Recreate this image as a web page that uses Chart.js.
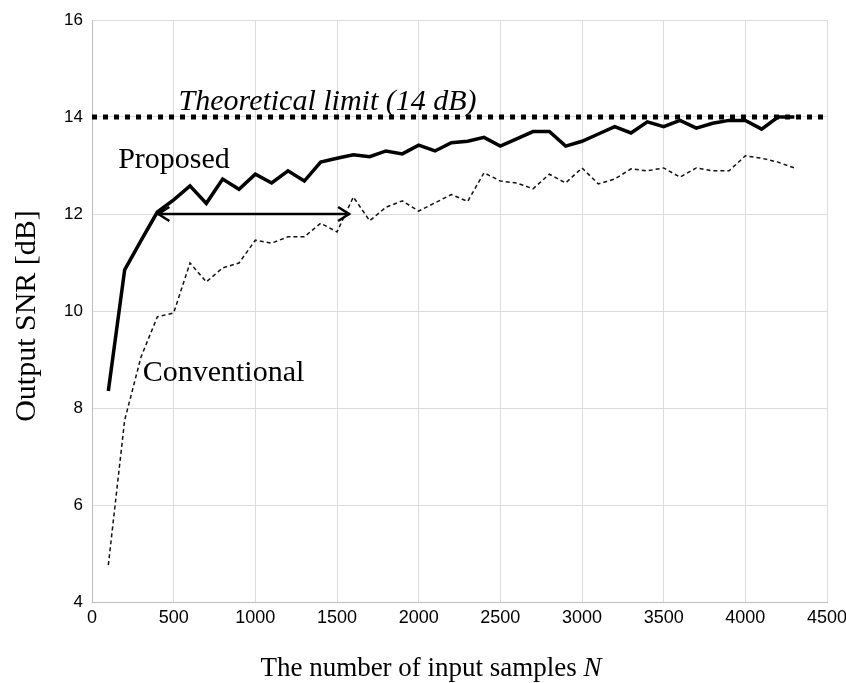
<!DOCTYPE html>
<html>
<head>
<meta charset="utf-8">
<script src="https://cdn.jsdelivr.net/npm/chart.js@4"></script>
<style>
html,body{margin:0;padding:0;background:#fff;}
#wrap{position:relative;width:846px;height:683px;}
</style>
</head>
<body>
<div id="wrap"><canvas id="c"></canvas></div>
<script>
const samplesN = [100,200,300,400,500,600,700,800,900,1000,1100,1200,1300,1400,1500,1600,1700,1800,1900,2000,2100,2200,2300,2400,2500,2600,2700,2800,2900,3000,3100,3200,3300,3400,3500,3600,3700,3800,3900,4000,4100,4200,4300];
const proposedSNR = [8.35,10.85,11.45,12.04,12.29,12.58,12.22,12.72,12.51,12.82,12.64,12.89,12.68,13.07,13.15,13.22,13.18,13.30,13.24,13.42,13.30,13.47,13.50,13.58,13.40,13.55,13.70,13.70,13.40,13.50,13.65,13.80,13.67,13.90,13.80,13.93,13.77,13.87,13.93,13.93,13.75,14.0,14.0];
const conventionalSNR = [4.76,7.75,9.05,9.88,9.96,10.99,10.60,10.89,10.99,11.46,11.40,11.53,11.53,11.81,11.63,12.35,11.86,12.14,12.27,12.06,12.23,12.40,12.26,12.85,12.68,12.64,12.52,12.82,12.64,12.95,12.62,12.72,12.93,12.89,12.95,12.76,12.95,12.89,12.89,13.20,13.15,13.07,12.95];
const limitX = [0,4500];
const limitSNR = [14,14];
const xTicks = [0,500,1000,1500,2000,2500,3000,3500,4000,4500];
const yTicks = [4,6,8,10,12,14,16];
const arrowFrom = [400,12];
const arrowTo = [1580,12];

const toXY = (xs, ys) => xs.map((x,i)=>({x:x,y:ys[i]}));
const SERIF = '"Liberation Serif", "Times New Roman", serif';

const annot = {
  id:'annot',
  afterDatasetsDraw(chart){
    const {ctx, scales:{x,y}, chartArea} = chart;
    ctx.save();
    ctx.fillStyle='#000';
    ctx.font='italic 30px ' + SERIF;
    ctx.textAlign='left'; ctx.textBaseline='alphabetic';
    ctx.fillText('Theoretical limit (14 dB)', x.getPixelForValue(530), y.getPixelForValue(14.14));
    ctx.font='30px ' + SERIF;
    ctx.fillText('Proposed', x.getPixelForValue(160), y.getPixelForValue(12.95));
    ctx.fillText('Conventional', x.getPixelForValue(310), y.getPixelForValue(8.55));
    // arrow
    const x1=x.getPixelForValue(arrowFrom[0]), y1=y.getPixelForValue(arrowFrom[1]);
    const x2=x.getPixelForValue(arrowTo[0]), y2=y.getPixelForValue(arrowTo[1]);
    ctx.strokeStyle='#000'; ctx.lineWidth=2.5;
    ctx.beginPath(); ctx.moveTo(x1,y1); ctx.lineTo(x2,y2); ctx.stroke();
    ctx.beginPath();
    ctx.moveTo(x1+12,y1-7); ctx.lineTo(x1+1,y1); ctx.lineTo(x1+12,y1+7);
    ctx.moveTo(x2-12,y2-7); ctx.lineTo(x2-1,y2); ctx.lineTo(x2-12,y2+7);
    ctx.stroke();
    // axis titles
    ctx.font='30px ' + SERIF;
    ctx.save();
    ctx.translate(27,(chartArea.top+chartArea.bottom)/2+5);
    ctx.rotate(-Math.PI/2);
    ctx.textAlign='center'; ctx.textBaseline='middle';
    ctx.fillText('Output SNR [dB]',0,0);
    ctx.restore();
    const t1='The number of input samples ', t2='N';
    ctx.font='27px ' + SERIF;
    const w1=ctx.measureText(t1).width;
    ctx.font='italic 27px ' + SERIF;
    const w2=ctx.measureText(t2).width;
    const cx=431;
    const sx=cx-(w1+w2)/2;
    ctx.textAlign='left'; ctx.textBaseline='alphabetic';
    ctx.font='27px ' + SERIF;
    ctx.fillText(t1,sx,676);
    ctx.font='italic 27px ' + SERIF;
    ctx.fillText(t2,sx+w1,676);
    ctx.restore();
  }
};

new Chart(document.getElementById('c'), {
  type:'line',
  data:{
    datasets:[
      {label:'Theoretical limit', data:toXY(limitX,limitSNR), borderColor:'#000', borderWidth:5, borderDash:[5,6], pointRadius:0, fill:false, borderCapStyle:'butt'},
      {label:'Proposed', data:toXY(samplesN,proposedSNR), borderColor:'#000', borderWidth:3.5, pointRadius:0, fill:false, tension:0, borderJoinStyle:'miter'},
      {label:'Conventional', data:toXY(samplesN,conventionalSNR), borderColor:'#111', borderWidth:1.5, borderDash:[4,3], pointRadius:0, fill:false, tension:0}
    ]
  },
  options:{
    responsive:true, maintainAspectRatio:false, animation:false,
    layout:{padding:{top:20,right:19,left:0,bottom:0}},
    plugins:{legend:{display:false}, tooltip:{enabled:false}},
    scales:{
      x:{type:'linear', min:0, max:4500,
        afterBuildTicks:(s)=>{s.ticks=xTicks.map(v=>({value:v}));},
        afterFit:(s)=>{s.height=81; s.paddingLeft=0; s.paddingRight=0;},
        grid:{color:'#dcdcdc', lineWidth:1, drawTicks:false},
        border:{color:'#bdbdbd'},
        ticks:{color:'#000', padding:5, maxRotation:0, autoSkip:false, callback:(v)=>String(v),
          font:{family:'"Liberation Sans Narrow", "Liberation Sans", Arial, sans-serif', size:18}}
      },
      y:{type:'linear', min:4, max:16,
        afterBuildTicks:(s)=>{s.ticks=yTicks.map(v=>({value:v}));},
        afterFit:(s)=>{s.width=92; s.paddingTop=0; s.paddingBottom=0;},
        grid:{color:'#dcdcdc', lineWidth:1, drawTicks:false},
        border:{color:'#bdbdbd'},
        ticks:{color:'#000', padding:9, callback:(v)=>String(v),
          font:{family:'"Liberation Sans", Arial, sans-serif', size:17}}
      }
    }
  },
  plugins:[annot]
});
</script>
</body>
</html>
